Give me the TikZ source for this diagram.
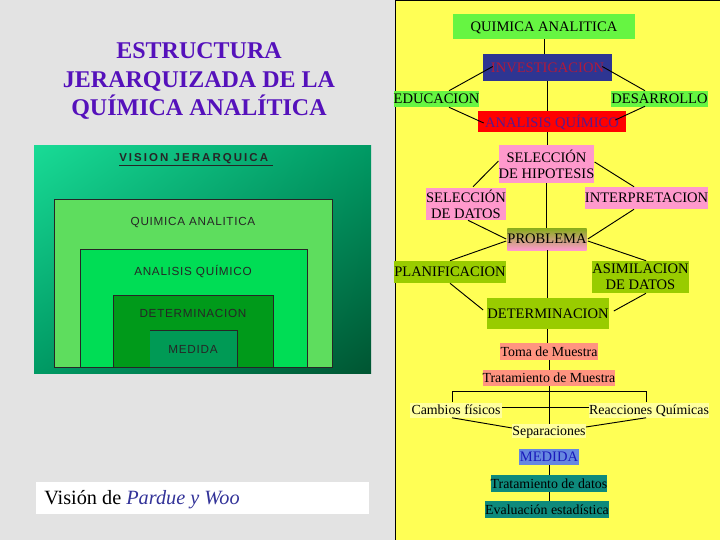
\documentclass[tikz,border=0pt]{standalone}
\usepackage{fontspec}
\setmainfont{Liberation Serif}
\newfontfamily\widefont[LetterSpace=6]{Liberation Sans}
\newfontfamily\widerfont[LetterSpace=18]{Liberation Sans}
\usetikzlibrary{calc,positioning,shadings}
\definecolor{paper}{HTML}{E3E3E3}
\definecolor{panel}{HTML}{FFFF55}
\definecolor{pale}{HTML}{FFFF9E}
\definecolor{lime}{HTML}{66F542}
\definecolor{navy}{HTML}{2E3592}
\definecolor{rose}{HTML}{FF99CC}
\definecolor{olive}{HTML}{99CC00}
\definecolor{salmon}{HTML}{FF9480}
\definecolor{sky}{HTML}{6688E0}
\definecolor{teal2}{HTML}{0E8A7C}
\definecolor{gradA}{HTML}{19DB96}
\definecolor{gradB}{HTML}{009A64}
\definecolor{gradC}{HTML}{005532}
\definecolor{nestA}{HTML}{5EDD5E}
\definecolor{nestB}{HTML}{00DD55}
\definecolor{nestC}{HTML}{009A1A}
\definecolor{nestD}{HTML}{009A55}
\definecolor{invtext}{HTML}{B01A3C}
\definecolor{anatext}{HTML}{5A1A8C}
\definecolor{medtext}{HTML}{1A1ABB}
\definecolor{titletext}{HTML}{5511BB}
\definecolor{captext}{HTML}{333399}
\tikzset{
sz/.style 2 args={minimum width=#1*0.75pt,minimum height=#2*0.75pt},
qbox/.style={inner sep=0pt,align=center,font=\fontsize{10.9}{12}\selectfont},
sbox/.style={qbox,text depth=0pt},
lowbox/.style={sbox,font=\fontsize{10.4}{12}\selectfont},
nest/.style={draw=black!85,line width=0.6pt,inner sep=0pt,anchor=north west},
nesttext/.style={font=\widefont\fontsize{8.8}{10}\selectfont,text=black!85,inner sep=0pt,text depth=0pt},
link/.style={black,line width=0.7pt}
}
\begin{document}
\begin{tikzpicture}[x=0.75pt,y=-0.75pt]
\useasboundingbox (0,0) rectangle (720,540);
\fill[paper] (0,0) rectangle (720,540);
\fill[panel] (395.5,0.5) rectangle (720,540);
\draw[black,line width=0.9pt] (720,0.5) -- (395.5,0.5) -- (395.5,540);
% left side
\node[font=\bfseries\fontsize{18}{21.4}\selectfont,text=titletext,align=center,inner sep=0pt] (title) at (199,81) {ESTRUCTURA\\JERARQUIZADA DE LA\\QUÍMICA ANALÍTICA};
\shade[upper left=gradA,upper right=gradB,lower left=gradB,lower right=gradC] (34,145) rectangle (371,373);
\node[font=\widerfont\bfseries\fontsize{8.6}{10}\selectfont,inner sep=0pt,text=black!85,anchor=west] (vision) at (119,160) {\underline{VISION JERARQUICA\ }};
\node[nest,fill=nestA,sz={278}{168}] (qa) at (54,199) {};
\node[nest,fill=nestB,sz={227}{118}] (aq) at (80,249) {};
\node[nest,fill=nestC,sz={160}{72}] (det) at (113,295) {};
\node[anchor=north west,inner sep=0pt,fill=nestD,sz={87}{37}] (med) at (150,330) {};
\draw[black!85,line width=0.6pt] (med.north west) -- (med.north east) -- (med.south east);
\node[nesttext] (qat) at (193,221) {QUIMICA ANALITICA};
\node[nesttext] (aqt) at (193,270) {ANALISIS QUÍMICO};
\node[nesttext] (dett) at (193,313) {DETERMINACION};
\node[nesttext] (medt) at (193,349) {MEDIDA};
\node[fill=white,inner sep=0pt,sz={333}{32}] (capbox) at (202.5,498) {};
\node[font=\fontsize{15.2}{17}\selectfont,inner sep=0pt,anchor=west] (cap) at (44,500) {Visión de \textcolor{captext}{\textit{Pardue y Woo}}};
% right side
\node[sbox,fill=lime,sz={182}{25}] (qui) at (544,26.5) {QUIMICA ANALITICA};
\node[sbox,fill=navy,text=invtext,sz={129}{27}] (inv) at (547.5,67.5) {INVESTIGACION};
\node[sbox,fill=lime,sz={83}{16}] (edu) at (436.5,99) {EDUCACION};
\node[sbox,fill=lime,sz={89}{16}] (des) at (659.5,99) {DESARROLLO};
\node[sbox,fill=red,text=anatext,sz={148}{21}] (ana) at (552,121.5) {ANALISIS QUÍMICO};
\node[qbox,fill=rose,sz={89}{38}] (hip) at (546.5,164) {SELECCIÓN\\DE HIPOTESIS};
\node[qbox,fill=rose,sz={74}{32}] (dat) at (466,204) {SELECCIÓN\\DE DATOS};
\node[sbox,fill=rose,sz={113}{22}] (inter) at (646.5,198) {INTERPRETACION};
\node[sbox,top color=olive!80!black!90,bottom color=rose,sz={78}{22}] (pro) at (547,239) {PROBLEMA};
\node[sbox,fill=olive,sz={98}{22}] (plan) at (450,272) {PLANIFICACION};
\node[qbox,fill=olive,sz={89}{32}] (asi) at (640.5,277) {ASIMILACION\\DE DATOS};
\node[sbox,fill=olive,sz={108}{31}] (dete) at (548,313.5) {DETERMINACION};
\node[lowbox,fill=salmon,sz={98}{17}] (toma) at (549,351.5) {Toma de Muestra};
\node[lowbox,fill=salmon,sz={118}{16}] (tra) at (549,378) {Tratamiento de Muestra};
\node[lowbox,fill=pale,sz={92}{15}] (cam) at (456,410) {Cambios físicos};
\node[lowbox,fill=pale,sz={120}{15}] (rea) at (649,410) {Reacciones Químicas};
\node[lowbox,fill=pale,sz={72}{14}] (sep) at (549,431) {Separaciones};
\node[sbox,fill=sky,text=medtext,sz={60}{16}] (mdd) at (549,457) {MEDIDA};
\node[lowbox,fill=teal2,sz={114}{17}] (tdat) at (549,483.5) {Tratamiento de datos};
\node[lowbox,fill=teal2,sz={118}{17}] (eva) at (547,509.5) {Evaluación estadística};
% connectors
\coordinate (brL) at (452,391);
\coordinate (brR) at (646,391);
\draw[link] (qui.south) -- (qui.south|-inv.north);
\draw[link] (inv.south) -- (inv.south|-ana.north);
\draw[link] (ana.south-|inv.south) -- (hip.north-|inv.south);
\draw[link] (hip.south) -- (pro.north-|hip.south);
\draw[link] (pro.south) -- (dete.north-|pro.south);
\draw[link] (dete.south-|pro.south) -- (toma.north-|pro.south);
\draw[link] ($(inv.west)+(10,-1)$) -- ($(edu.north)+(12.5,0)$);
\draw[link] ($(inv.east)+(-10,-1)$) -- ($(des.north)+(-14.5,0)$);
\draw[link] ($(edu.south)+(12.5,0)$) -- ($(ana.west)+(6,1.5)$);
\draw[link] ($(des.south)+(-14.5,-1)$) -- ($(ana.east)+(-11,-1.5)$);
\draw[link] ($(hip.west)+(0,-3)$) -- ($(dat.north)+(7,-1)$);
\draw[link] ($(hip.east)+(0,-2)$) -- ($(inter.north)+(-12.5,0)$);
\draw[link] ($(dat.south)+(2,0)$) -- ($(pro.west)+(-1,0)$);
\draw[link] ($(inter.south)+(-12.5,0)$) -- ($(pro.east)+(1,0)$);
\draw[link] ($(pro.west)+(-1,2)$) -- (plan.north);
\draw[link] ($(pro.east)+(1,2)$) -- ($(asi.north)+(5.5,0)$);
\draw[link] (plan.south) -- ($(dete.west)+(-4,-3.5)$);
\draw[link] ($(asi.south)+(5.5,0)$) -- ($(dete.east)+(5,-2.5)$);
\draw[link] (toma.south) -- (tra.north);
\draw[link] (tra.south) -- (sep.north);
\draw[link] (cam.north-|brL) -- (brL) -- (brR) -- (rea.north-|brR);
\draw[link] ($(cam.east)+(0,-3)$) -- ($(rea.west)+(0,-3)$);
\draw[link] (cam.south-|brL) -- ($(sep.west)+(0,-3)$);
\draw[link] (rea.south-|brR) -- ($(sep.east)+(0,-4)$);
\draw[link] (mdd.south) -- (tdat.north);
\draw[link] (tdat.south) -- (eva.north-|tdat.south);
\end{tikzpicture}
\end{document}
